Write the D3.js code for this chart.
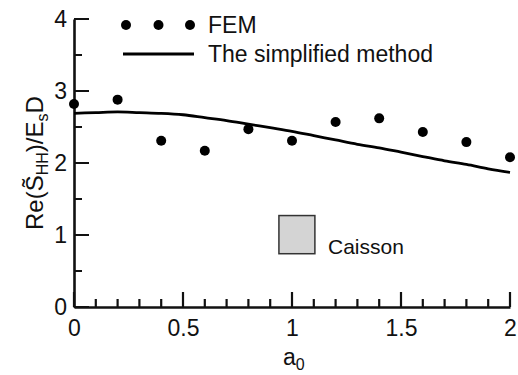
<!DOCTYPE html>
<html>
<head>
<meta charset="utf-8">
<script src="https://cdn.jsdelivr.net/npm/d3@7"></script>
<style>
  body { margin: 0; background: #fff; }
  text { font-family: Arial, "Liberation Sans", sans-serif; fill: #111; }
</style>
</head>
<body>
<div id="chart"></div>
<script>
// FEM points
const femX = [0, 0.2, 0.4, 0.6, 0.8, 1.0, 1.2, 1.4, 1.6, 1.8, 2.0];
const femY = [2.82, 2.88, 2.31, 2.17, 2.47, 2.31, 2.57, 2.62, 2.43, 2.29, 2.08];

// simplified method curve
const simX = [0, 0.1, 0.2, 0.3, 0.4, 0.5, 0.6, 0.7, 0.8, 0.9, 1.0, 1.1, 1.2, 1.3, 1.4, 1.5, 1.6, 1.7, 1.8, 1.9, 2.0];
const simY = [2.69, 2.70, 2.71, 2.70, 2.69, 2.67, 2.63, 2.59, 2.54, 2.49, 2.44, 2.38, 2.32, 2.26, 2.21, 2.15, 2.09, 2.03, 1.98, 1.92, 1.87];

const xMajor = [0, 0.5, 1, 1.5, 2];
const xMinor = [0.1, 0.2, 0.3, 0.4, 0.6, 0.7, 0.8, 0.9, 1.1, 1.2, 1.3, 1.4, 1.6, 1.7, 1.8, 1.9];
const yMajor = [0, 1, 2, 3, 4];
const yMinor = [0.5, 1.5, 2.5, 3.5];

// caisson sketch (data units)
const caissonBox = [0.94, 1.105, 0.74, 1.27];

const w = 518;
const h = 375;
const padL = 74, padR = 510, padT = 19, padB = 307;

const svg = d3.select('#chart')
              .append('svg')
              .attr('width', w)
              .attr('height', h);

const x = d3.scaleLinear().domain([0, 2]).range([padL, padR]);
const y = d3.scaleLinear().domain([0, 4]).range([padB, padT]);

//axes (labels + domain lines)
const xAxis = svg.append('g')
   .attr('transform', `translate(0, ${padB})`)
   .call(d3.axisBottom(x).tickValues(xMajor).tickSize(0).tickFormat(d3.format('')));
xAxis.select('.domain').attr('stroke', '#111').attr('stroke-width', 2.6);
xAxis.selectAll('text').attr('font-size', 23).attr('dy', '0.9em').attr('y', 8);

const yAxis = svg.append('g')
   .attr('transform', `translate(${padL}, 0)`)
   .call(d3.axisLeft(y).tickValues(yMajor).tickSize(0).tickFormat(d3.format('d')));
yAxis.select('.domain').attr('stroke', '#111').attr('stroke-width', 2.6);
yAxis.selectAll('text').attr('font-size', 23).attr('x', -7);

//inward ticks, drawn as one path per axis
const xTicks = xMajor.map(v => [v, 15]).concat(xMinor.map(v => [v, 8]));
const yTicks = yMajor.map(v => [v, 15]).concat(yMinor.map(v => [v, 8]));

svg.append('path')
   .attr('d', xTicks.map(d => `M${x(d[0])},${padB}V${padB - d[1]}`).join(''))
   .attr('fill', 'none')
   .attr('stroke', '#111')
   .attr('stroke-width', 2.2);

svg.append('path')
   .attr('d', yTicks.map(d => `M${padL},${y(d[0])}H${padL + d[1]}`).join(''))
   .attr('fill', 'none')
   .attr('stroke', '#111')
   .attr('stroke-width', 2.2);

//simplified method
const line = d3.line()
               .x((d, i) => x(simX[i]))
               .y(d => y(d))
               .curve(d3.curveMonotoneX);

svg.append('path')
   .datum(simY)
   .attr('d', line)
   .attr('fill', 'none')
   .attr('stroke', '#000')
   .attr('stroke-width', 2.8);

//FEM dots
svg.append('g')
   .selectAll('circle')
   .data(femY)
   .enter()
   .append('circle')
   .attr('cx', (d, i) => x(femX[i]))
   .attr('cy', d => y(d))
   .attr('r', 5)
   .attr('fill', '#000');

//caisson
svg.append('rect')
   .attr('x', x(caissonBox[0]))
   .attr('y', y(caissonBox[3]))
   .attr('width', x(caissonBox[1]) - x(caissonBox[0]))
   .attr('height', y(caissonBox[2]) - y(caissonBox[3]))
   .attr('fill', '#d4d4d4')
   .attr('stroke', '#333')
   .attr('stroke-width', 1.5);

svg.append('text')
   .attr('x', x(1.165))
   .attr('y', y(caissonBox[2]))
   .attr('font-size', 21)
   .text('Caisson');

//legend
const lg = svg.append('g').attr('id', 'legend');
lg.selectAll('circle')
  .data([126, 158.5, 190])
  .enter()
  .append('circle')
  .attr('cx', d => d)
  .attr('cy', 25)
  .attr('r', 5)
  .attr('fill', '#000');
lg.append('text').attr('x', 208).attr('y', 33).attr('font-size', 23).text('FEM');
lg.append('line')
  .attr('x1', 123).attr('x2', 194)
  .attr('y1', 54).attr('y2', 54)
  .attr('stroke', '#000').attr('stroke-width', 2.8);
lg.append('text').attr('x', 208).attr('y', 62).attr('font-size', 23).text('The simplified method');

//axis labels
const xl = svg.append('text')
   .attr('x', 283)
   .attr('y', 365)
   .attr('font-size', 23);
xl.append('tspan').text('a');
xl.append('tspan').attr('font-size', 16).attr('dy', 5).text('0');

const yl = svg.append('text')
   .attr('transform', 'translate(43, 230) rotate(-90)')
   .attr('font-size', 24);
yl.append('tspan').text('Re(S\u0303');
yl.append('tspan').attr('font-size', 16).attr('dy', 5).text('HH');
yl.append('tspan').attr('dy', -5).text(')/E');
yl.append('tspan').attr('font-size', 16).attr('dy', 5).text('s');
yl.append('tspan').attr('dy', -5).text('D');
</script>
</body>
</html>
